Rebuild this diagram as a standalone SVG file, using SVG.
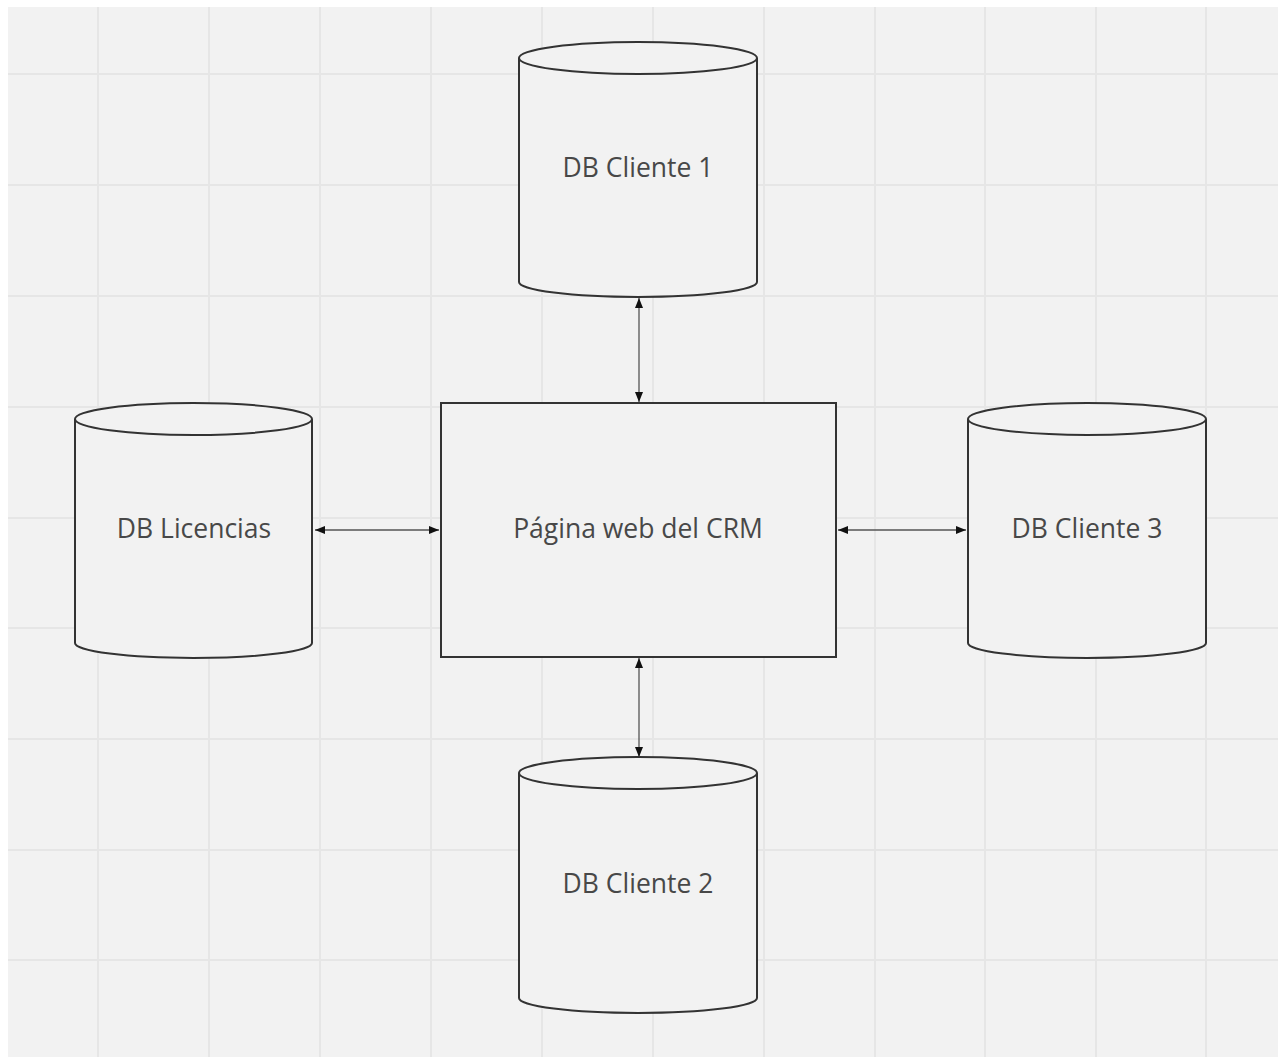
<svg xmlns="http://www.w3.org/2000/svg" width="1278" height="1059" viewBox="0 0 1278 1059">
  <style>
    .shape { fill: #f2f2f2; stroke: #333333; stroke-width: 2; }
    .grid { stroke: #e6e6e6; stroke-width: 2; }
    .label { font-family: "Open Sans", "Liberation Sans", sans-serif; font-size: 26.5px; fill: #484848; text-anchor: middle; }
    .link { stroke: #555555; stroke-width: 1.3; fill: none; marker-start: url(#head); marker-end: url(#head); }
  </style>
  <defs>
    <marker id="head" viewBox="0 0 10 8" refX="10" refY="4" markerWidth="10" markerHeight="8" markerUnits="userSpaceOnUse" orient="auto-start-reverse">
      <path d="M0,0 L10,4 L0,8 Z" fill="#111111"/>
    </marker>
  </defs>

  <!-- canvas -->
  <rect x="0" y="0" width="1278" height="1059" fill="#ffffff"/>
  <rect x="8" y="7" width="1270" height="1050" fill="#f2f2f2"/>

  <!-- board grid -->
  <g id="grid" class="grid">
    <line x1="98" y1="7" x2="98" y2="1057"/>
    <line x1="209" y1="7" x2="209" y2="1057"/>
    <line x1="320" y1="7" x2="320" y2="1057"/>
    <line x1="431" y1="7" x2="431" y2="1057"/>
    <line x1="542" y1="7" x2="542" y2="1057"/>
    <line x1="653" y1="7" x2="653" y2="1057"/>
    <line x1="764" y1="7" x2="764" y2="1057"/>
    <line x1="875" y1="7" x2="875" y2="1057"/>
    <line x1="985" y1="7" x2="985" y2="1057"/>
    <line x1="1096" y1="7" x2="1096" y2="1057"/>
    <line x1="1206" y1="7" x2="1206" y2="1057"/>
    <line x1="8" y1="74" x2="1278" y2="74"/>
    <line x1="8" y1="185" x2="1278" y2="185"/>
    <line x1="8" y1="296" x2="1278" y2="296"/>
    <line x1="8" y1="407" x2="1278" y2="407"/>
    <line x1="8" y1="518" x2="1278" y2="518"/>
    <line x1="8" y1="628" x2="1278" y2="628"/>
    <line x1="8" y1="739" x2="1278" y2="739"/>
    <line x1="8" y1="850" x2="1278" y2="850"/>
    <line x1="8" y1="960" x2="1278" y2="960"/>
  </g>

  <!-- connectors -->
  <g id="connectors">
    <line class="link" x1="639" y1="298" x2="639" y2="402"/>
    <line class="link" x1="639" y1="658" x2="639" y2="757"/>
    <line class="link" x1="315" y1="530" x2="439" y2="530"/>
    <line class="link" x1="838" y1="530" x2="966" y2="530"/>
  </g>

  <!-- DB Cliente 1 -->
  <g id="db-cliente-1">
    <path class="shape" d="M519,58 L519,282 A119,15 0 0 0 757,282 L757,58"/>
    <ellipse class="shape" cx="638" cy="58" rx="119" ry="16"/>
    <text class="label" x="638" y="177">DB Cliente 1</text>
  </g>

  <!-- DB Licencias -->
  <g id="db-licencias">
    <path class="shape" d="M75,419 L75,643 A118.5,15 0 0 0 312,643 L312,419"/>
    <ellipse class="shape" cx="193.5" cy="419" rx="118.5" ry="16"/>
    <text class="label" x="194" y="538">DB Licencias</text>
  </g>

  <!-- Página web del CRM -->
  <g id="crm-web">
    <rect class="shape" x="441" y="403" width="395" height="254"/>
    <text class="label" x="638" y="538">Página web del CRM</text>
  </g>

  <!-- DB Cliente 3 -->
  <g id="db-cliente-3">
    <path class="shape" d="M968,419 L968,643 A119,15 0 0 0 1206,643 L1206,419"/>
    <ellipse class="shape" cx="1087" cy="419" rx="119" ry="16"/>
    <text class="label" x="1087" y="538">DB Cliente 3</text>
  </g>

  <!-- DB Cliente 2 -->
  <g id="db-cliente-2">
    <path class="shape" d="M519,773 L519,998 A119,15 0 0 0 757,998 L757,773"/>
    <ellipse class="shape" cx="638" cy="773" rx="119" ry="16"/>
    <text class="label" x="638" y="893">DB Cliente 2</text>
  </g>
</svg>
